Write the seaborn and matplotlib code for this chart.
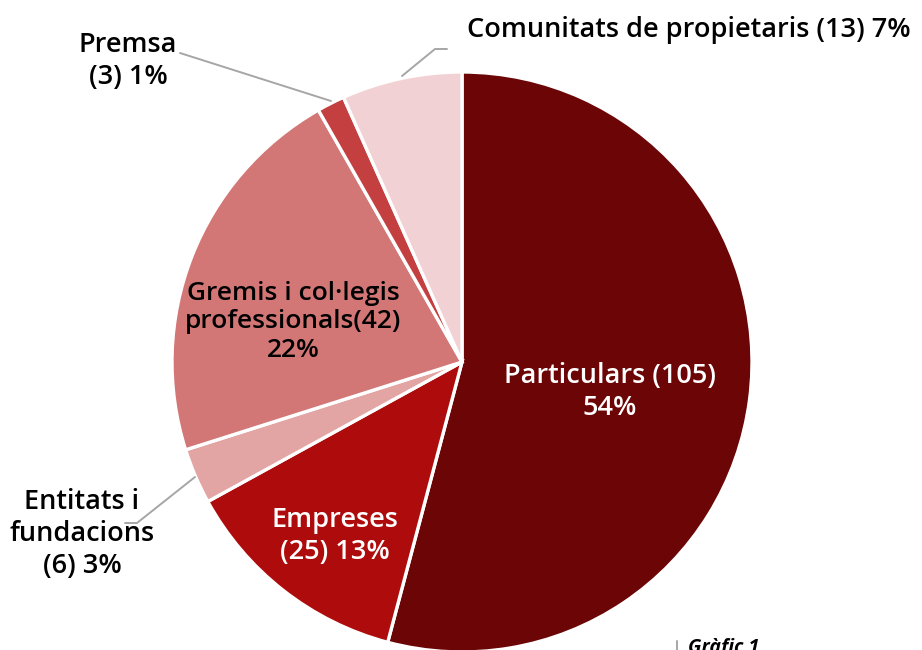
import matplotlib
matplotlib.use("Agg")
import matplotlib.pyplot as plt
import seaborn as sns
from matplotlib import font_manager
from matplotlib.lines import Line2D

sns.set_theme(style="white")

names = {f.name for f in font_manager.fontManager.ttflist}
fam = [f for f in ["Liberation Sans Narrow", "Open Sans", "DejaVu Sans"] if f in names]
plt.rcParams["font.family"] = fam

categories = ["Particulars", "Empreses", "Entitats i fundacions",
              "Gremis i col·legis professionals", "Premsa", "Comunitats de propietaris"]
counts = [105, 25, 6, 42, 3, 13]
percents = [54, 13, 3, 22, 1, 7]
colors = ["#6B0506", "#AE0C0C", "#E3A4A4", "#D27676", "#C43F40", "#F1D1D3"]

W, H = 922, 650
fig = plt.figure(figsize=(W / 100, H / 100), dpi=100)
cx, cy, r = 462, 362, 290
ax = fig.add_axes([(cx - r) / W, (H - cy - r) / H, 2 * r / W, 2 * r / H])
ax.pie(counts, colors=colors, startangle=90, counterclock=False, radius=1,
       wedgeprops=dict(edgecolor="white", linewidth=2.4))
ax.set_xlim(-1, 1)
ax.set_ylim(-1, 1)
ax.set_aspect("equal")
ax.axis("off")

fs = 19.5
def ftext(px, py, s, color="black", size=fs, **kw):
    fig.text(px / W, 1 - py / H, s, color=color, fontsize=size, ha="center",
             va="center", linespacing=1.17, fontweight="semibold", **kw)

ftext(610, 392, f"{categories[0]} ({counts[0]})\n{percents[0]}%", color="white")
ftext(335, 536, f"{categories[1]}\n({counts[1]}) {percents[1]}%", color="white")
ftext(82, 534, f"Entitats i\nfundacions\n({counts[2]}) {percents[2]}%")
ftext(293, 322, f"Gremis i col·legis\nprofessionals({counts[3]})\n{percents[3]}%", size=19)
ftext(128, 61, f"{categories[4]}\n({counts[4]}) {percents[4]}%")
ftext(689, 30, f"{categories[5]} ({counts[5]}) {percents[5]}%")

def fline(pts):
    xs = [p[0] / W for p in pts]
    ys = [1 - p[1] / H for p in pts]
    fig.add_artist(Line2D(xs, ys, color="#A6A6A6", linewidth=1.4,
                          transform=fig.transFigure))

fline([(180, 53), (331, 101)])
fline([(447, 49), (435, 49), (402, 76)])
fline([(125, 523), (137, 523), (195, 477)])
fline([(677, 641), (677, 652)])

fig.text(688 / W, 1 - 638 / H, "Gràfic 1", fontsize=14, fontweight="bold",
         fontstyle="italic", ha="left", va="top", color="black")

fig.savefig("out.png", dpi=100)
